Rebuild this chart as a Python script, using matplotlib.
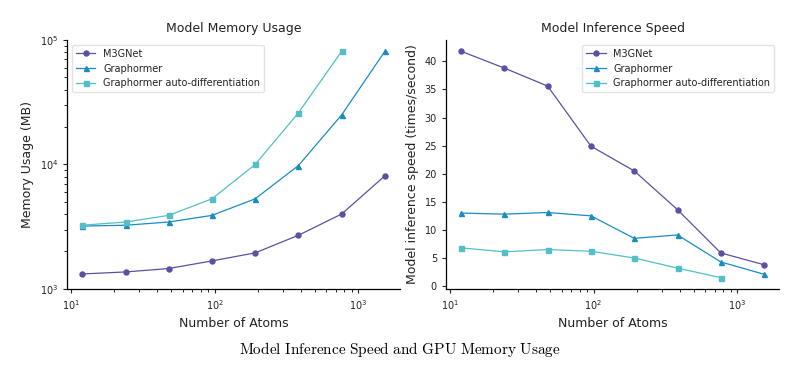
import matplotlib
matplotlib.use("Agg")
import matplotlib.pyplot as plt

plt.rcParams['mathtext.fontset'] = 'cm'

atoms = [12, 24, 48, 96, 192, 384, 768, 1536]
atoms_ad = [12, 24, 48, 96, 192, 384, 768]

mem_m3gnet = [1320, 1370, 1460, 1680, 1950, 2700, 4000, 8100]
mem_graphormer = [3200, 3250, 3450, 3900, 5300, 9800, 25000, 81000]
mem_autodiff = [3250, 3450, 3900, 5300, 10000, 26000, 81000]

speed_m3gnet = [41.8, 38.8, 35.6, 24.9, 20.5, 13.6, 5.9, 3.8]
speed_graphormer = [13.0, 12.8, 13.1, 12.5, 8.5, 9.1, 4.3, 2.1]
speed_autodiff = [6.8, 6.1, 6.5, 6.2, 5.0, 3.2, 1.5]

labels = ["M3GNet", "Graphormer", "Graphormer auto-differentiation"]
colors = ["#5e4fa2", "#1a8cc0", "#52bec8"]
markers = ["o", "^", "s"]

fig = plt.figure(figsize=(8, 3.7), dpi=100)
ax1 = fig.add_axes([0.084, 0.219, 0.416, 0.673])
ax2 = fig.add_axes([0.5575, 0.219, 0.4165, 0.673])

kw = dict(lw=0.9, ms=3.6)
for ax, ys in ((ax1, [mem_m3gnet, mem_graphormer, mem_autodiff]),
               (ax2, [speed_m3gnet, speed_graphormer, speed_autodiff])):
    xs = [atoms, atoms, atoms_ad]
    for x, y, lab, c, m in zip(xs, ys, labels, colors, markers):
        ax.plot(x, y, marker=m, color=c, label=lab, **kw)
    ax.set_xscale('log')
    for s in ('top', 'right'):
        ax.spines[s].set_visible(False)
    for s in ('left', 'bottom'):
        ax.spines[s].set_linewidth(0.9)
    ax.tick_params(labelsize=7, colors='#222222', length=3)
    ax.tick_params(which='minor', length=2)
    ax.set_xlabel("Number of Atoms", fontsize=9, color='#222222')

ax1.set_yscale('log')
ax1.set_ylim(1000, 100000)
ax1.set_ylabel("Memory Usage (MB)", fontsize=9, color='#222222')
ax1.set_title("Model Memory Usage", fontsize=9, color='#222222')
ax1.legend(loc='upper left', fontsize=7, frameon=True, edgecolor='#dddddd',
           handlelength=2.0, labelcolor='#222222')

ax2.set_ylabel("Model inference speed (times/second)", fontsize=9, color='#222222')
ax2.set_title("Model Inference Speed", fontsize=9, color='#222222')
ax2.legend(loc='upper right', fontsize=7, frameon=True, edgecolor='#dddddd',
           handlelength=2.0, labelcolor='#222222')

fig.text(0.5, 0.055, r"$\mathrm{Model\ Inference\ Speed\ and\ GPU\ Memory\ Usage}$",
         ha='center', va='center', fontsize=11)

fig.savefig("out.png", dpi=100)
